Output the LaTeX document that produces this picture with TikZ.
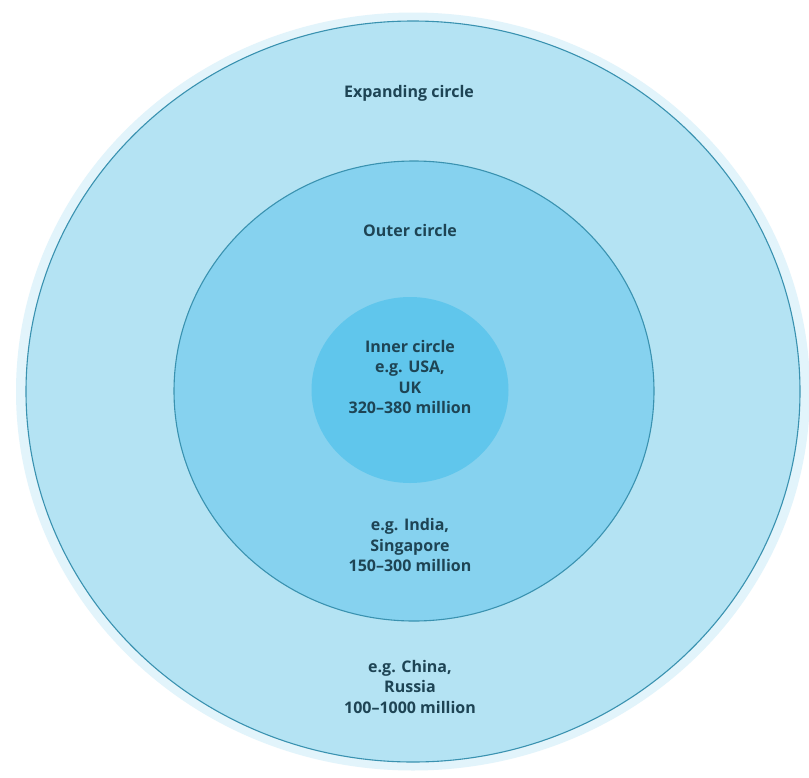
\documentclass[tikz,border=0pt]{standalone}
\usepackage{fontspec}
\setmainfont{Open Sans}
\definecolor{halofill}{RGB}{226,244,251}
\definecolor{outerfill}{RGB}{180,227,243}
\definecolor{midfill}{RGB}{134,210,239}
\definecolor{innerfill}{RGB}{96,198,236}
\definecolor{ringline}{RGB}{58,146,176}
\definecolor{labeltext}{RGB}{30,68,84}
\tikzset{
  ring/.style={draw=ringline, line width=1.1pt},
  lbl/.style={text=labeltext, align=center, inner sep=0pt,
    font=\bfseries\fontsize{16}{20.5}\selectfont}
}
\begin{document}
\begin{tikzpicture}[x=1pt,y=-1pt]
\useasboundingbox (0,0) rectangle (809,777);
\fill[white] (0,0) rectangle (809,777);
\fill[halofill] (413,391.5) ellipse [x radius=397, y radius=379];
\draw[ring, fill=outerfill] (413,391.5) ellipse [x radius=387, y radius=370.5];
\draw[ring, fill=midfill] (414,391) ellipse [x radius=240, y radius=230];
\fill[innerfill] (410,390) ellipse [x radius=98.5, y radius=93];
\node[lbl] (expanding) at (409,93) {Expanding circle};
\node[lbl] (outer) at (410,230) {Outer circle};
\node[lbl] (inner) at (410,377) {Inner circle\\e.g. USA,\\UK\\320–380 million};
\node[lbl] (india) at (410,545) {e.g. India,\\Singapore\\150–300 million};
\node[lbl] (china) at (410,686.5) {e.g. China,\\Russia\\100–1000 million};
\end{tikzpicture}
\end{document}
